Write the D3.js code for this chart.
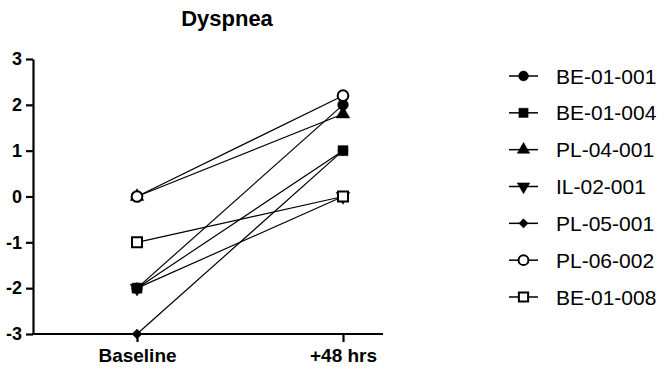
<!DOCTYPE html>
<html>
<head>
<meta charset="utf-8">
<script src="https://d3js.org/d3.v7.min.js"></script>
<style>
  body { margin: 0; background: #fff; }
  text { font-family: "Liberation Sans", Arial, sans-serif; }
</style>
</head>
<body>
<svg id="chart" width="664" height="373"></svg>
<script>
// data
const timepoints = ["Baseline", "+48 hrs"];
const patients = ["BE-01-001", "BE-01-004", "PL-04-001", "IL-02-001", "PL-05-001", "PL-06-002", "BE-01-008"];
const baseline = [-2, -2, 0, -2, -3, 0, -1];
const after48 = [2, 1, 1.8, 0, 1, 2.2, 0];
const yTicks = [-3, -2, -1, 0, 1, 2, 3];
const markers = ["circle", "square", "triangle", "triangleDown", "diamond", "circleOpen", "squareOpen"];

const svg = d3.select("#chart");

const x = d3.scalePoint().domain(timepoints).range([137, 343]);
const y = d3.scaleLinear().domain([-3, 3]).range([334, 59]);

// title
svg.append("text")
  .attr("x", 227).attr("y", 26)
  .attr("text-anchor", "middle")
  .style("font-size", "22px").style("font-weight", "bold")
  .text("Dyspnea");

// axes
const yAxis = svg.append("g")
  .attr("transform", "translate(33,0)")
  .call(d3.axisLeft(y).tickValues(yTicks).tickFormat(d => String(d))
    .tickSize(7).tickPadding(4).tickSizeOuter(0));
yAxis.select(".domain").attr("stroke-width", 2.2);
yAxis.selectAll(".tick line").attr("stroke-width", 2.2);
yAxis.selectAll(".tick text")
  .style("font-size", "18px").style("font-weight", "bold")
  .style("font-family", "'Liberation Sans', Arial, sans-serif");

const xAxis = svg.append("g")
  .attr("transform", `translate(0,${y(-3)})`)
  .call(d3.axisBottom(x).tickSize(8).tickPadding(7).tickSizeOuter(0));
xAxis.select(".domain").attr("d", "M32,0H383").attr("stroke-width", 2.2);
xAxis.selectAll(".tick line").attr("stroke-width", 2.2);
xAxis.selectAll(".tick text")
  .style("font-size", "19px").style("font-weight", "bold")
  .style("font-family", "'Liberation Sans', Arial, sans-serif");

// marker helper
function symbolPath(kind, scale) {
  const s = scale || 1;
  switch (kind) {
    case "circle":
    case "circleOpen": return d3.symbol(d3.symbolCircle, 90 * s)();
    case "square":
    case "squareOpen": return d3.symbol(d3.symbolSquare, 100 * s)();
    case "triangle":
    case "triangleDown": return d3.symbol(d3.symbolTriangle, 80 * s)();
    case "diamond": return d3.symbol(d3.symbolSquare, 50 * s)();
  }
}
function drawMarker(g, kind, cx, cy, scale) {
  let rot = 0;
  if (kind === "triangleDown") rot = 180;
  if (kind === "diamond") rot = 45;
  const open = kind.endsWith("Open");
  g.append("path")
    .attr("d", symbolPath(kind, scale))
    .attr("transform", `translate(${cx},${cy}) rotate(${rot})`)
    .attr("fill", open ? "#fff" : "#000")
    .attr("stroke", "#000")
    .attr("stroke-width", open ? 2 : 0.5);
}

// lines
const lines = svg.append("g");
patients.forEach((p, i) => {
  lines.append("line")
    .attr("x1", x(timepoints[0])).attr("y1", y(baseline[i]))
    .attr("x2", x(timepoints[1])).attr("y2", y(after48[i]))
    .attr("stroke", "#000").attr("stroke-width", 1.2);
});

// points
const pts = svg.append("g");
patients.forEach((p, i) => {
  drawMarker(pts, markers[i], x(timepoints[0]), y(baseline[i]));
  drawMarker(pts, markers[i], x(timepoints[1]), y(after48[i]));
});

// legend
const legend = svg.append("g");
const legY = d3.scalePoint().domain(patients).range([76, 297]);
patients.forEach((p, i) => {
  const ly = legY(p);
  legend.append("line")
    .attr("x1", 509).attr("x2", 538).attr("y1", ly).attr("y2", ly)
    .attr("stroke", "#000").attr("stroke-width", 1.5);
  drawMarker(legend, markers[i], 523.5, ly, 0.85);
  legend.append("text")
    .attr("x", 556).attr("y", ly).attr("dy", "0.36em")
    .style("font-size", "21px")
    .text(p);
});
</script>
</body>
</html>
